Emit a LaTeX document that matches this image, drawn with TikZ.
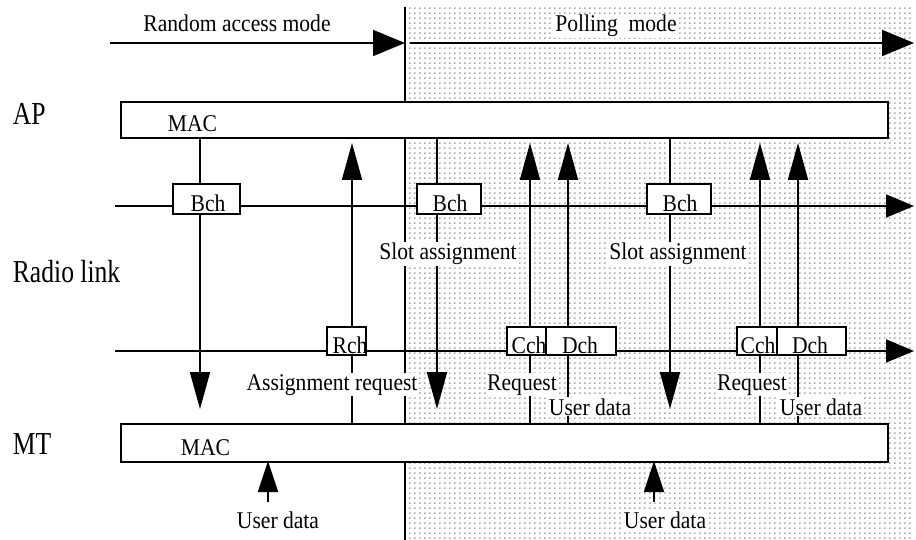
\documentclass[tikz,border=0pt]{standalone}
\usepackage{fontspec}
\setmainfont{Liberation Serif}
\newfontfamily\smallf[FakeStretch=0.9]{Liberation Serif}
\newfontfamily\bigf[FakeStretch=0.8]{Liberation Serif}
\usetikzlibrary{arrows.meta,patterns}
\pgfdeclarepatternformonly{mydots}{\pgfpointorigin}{\pgfpoint{4.8pt}{4.8pt}}{\pgfpoint{4.8pt}{4.8pt}}{\pgfpathcircle{\pgfpoint{2pt}{2pt}}{0.7pt}\pgfusepath{fill}}
\begin{document}
\begin{tikzpicture}[x=1pt,y=-1pt,line width=1.8pt,
  lbl/.style={font=\smallf\fontsize{24}{24}\selectfont,inner sep=1pt,fill=white,anchor=base},
  chtext/.style={font=\smallf\fontsize{24}{24}\selectfont,inner sep=0pt,anchor=base},
  biglbl/.style={font=\bigf\fontsize{32}{32}\selectfont,inner sep=0pt,anchor=base west},
  layer/.style={draw,fill=white,minimum width=767pt,inner sep=0pt,anchor=north west},
  chbox/.style={draw,fill=white,inner sep=0pt},
  modearrow/.style={-{Triangle[length=32pt,width=26pt]}},
  charrow/.style={-{Triangle[length=28pt,width=23pt]}},
  varrow/.style={-{Triangle[length=37pt,width=20pt]}},
  uarrow/.style={-{Triangle[length=31pt,width=20pt]}}
]
\useasboundingbox (0,0) rectangle (916,540);
% shaded polling region
\fill[pattern=mydots,pattern color=black!75] (406,7) rectangle (912,540);
\coordinate (vtop) at (405,7);
\coordinate (vbot) at (405,540);
\draw (vtop) -- (vbot);

% mode arrows
\coordinate (ra1) at (110,43);
\coordinate (ra2) at (405,43);
\coordinate (pm1) at (410,43);
\coordinate (pm2) at (914,43);
\draw[modearrow] (ra1) -- (ra2);
\draw[modearrow] (pm1) -- (pm2);
\node[lbl,fill=none] (ramode) at (237,32) {Random access mode};
\node[lbl] (pmode) at (616,32) {Polling\ \ mode};

% channel lines
\coordinate (up1) at (115,206);
\coordinate (up2) at (914,206);
\coordinate (lo1) at (115,351);
\coordinate (lo2) at (914,351);
\draw[charrow] (up1) -- (up2);
\draw[charrow] (lo1) -- (lo2);

% vertical arrows: down (AP -> MT)
\foreach \n/\x in {d1/200,d2/437,d3/670}{
  \coordinate (\n s) at (\x,137);
  \coordinate (\n e) at (\x,409);
  \draw[varrow] (\n s) -- (\n e);
}
% vertical arrows: up (MT -> AP)
\foreach \n/\x in {u1/352,u2/530,u3/568,u4/760,u5/798}{
  \coordinate (\n s) at (\x,423);
  \coordinate (\n e) at (\x,143);
  \draw[varrow] (\n s) -- (\n e);
}
% user data into MT
\foreach \n/\x in {b1/268,b2/654}{
  \coordinate (\n s) at (\x,502);
  \coordinate (\n e) at (\x,461);
  \draw[uarrow] (\n s) -- (\n e);
}

% AP and MT layers
\node[layer,minimum height=36pt] (ap) at (120,101) {};
\node[layer,minimum height=38pt] (mt) at (120,423) {};
\node[chtext,anchor=base west] (apmac) at (167,132) {MAC};
\node[chtext,anchor=base west] (mtmac) at (180,455) {MAC};

% channel boxes upper
\node[chbox,minimum width=67pt,minimum height=30pt] (bch1) at (206.5,199) {};
\node[chbox,minimum width=64pt,minimum height=30pt] (bch2) at (449,199) {};
\node[chbox,minimum width=64pt,minimum height=30pt] (bch3) at (679,199) {};
\node[chtext] (bch1t) at (208,212) {Bch};
\node[chtext] (bch2t) at (450,212) {Bch};
\node[chtext] (bch3t) at (680,212) {Bch};

% channel boxes lower
\node[chbox,minimum width=39pt,minimum height=28pt] (rch) at (346.5,341) {};
\node[chbox,minimum width=39pt,minimum height=28pt] (cch1) at (526.5,341) {};
\node[chbox,minimum width=70pt,minimum height=28pt] (dch1) at (581,341) {};
\node[chbox,minimum width=40pt,minimum height=28pt] (cch2) at (757,341) {};
\node[chbox,minimum width=69pt,minimum height=28pt] (dch2) at (811.5,341) {};
\node[chtext] (rcht) at (350,353) {Rch};
\node[chtext] (cch1t) at (529,353) {Cch};
\node[chtext] (dch1t) at (580,353) {Dch};
\node[chtext] (cch2t) at (758,353) {Cch};
\node[chtext] (dch2t) at (810,353) {Dch};

% labels
\node[lbl] (sa1) at (448,260) {Slot assignment};
\node[lbl] (sa2) at (678,260) {Slot assignment};
\node[lbl] (areq) at (332,390) {Assignment request};
\node[lbl] (req1) at (522,390) {Request};
\node[lbl] (req2) at (752,390) {Request};
\node[lbl] (ud1) at (590,415) {User data};
\node[lbl] (ud2) at (821,415) {User data};
\node[lbl] (ud3) at (278,528) {User data};
\node[lbl] (ud4) at (665,528) {User data};

% side labels
\node[biglbl] (aplbl) at (12,125) {AP};
\node[biglbl] (rllbl) at (12,283) {Radio link};
\node[biglbl] (mtlbl) at (12,454) {MT};
\end{tikzpicture}
\end{document}
